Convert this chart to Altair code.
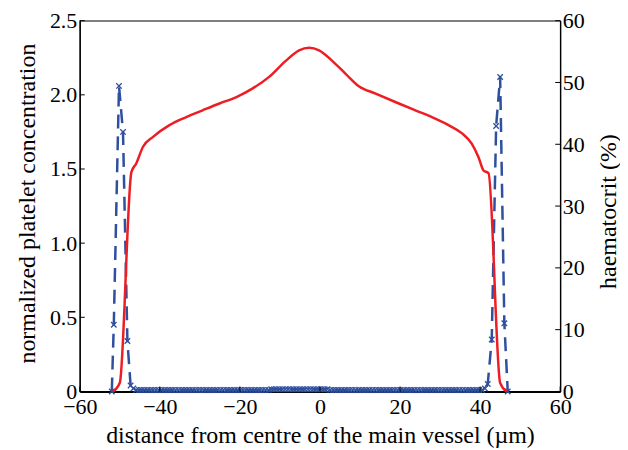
import altair as alt
import pandas as pd
import numpy as np

# ---- platelet concentration (left axis), blue dashed with x markers ----
plt_left_x = [-52.0, -51.5, -50.2, -49.2, -48.1, -47.3]
plt_left_y = [0.0, 0.45, 2.06, 1.75, 0.34, 0.04]
plt_mid_y = [
    0.02, 0.01, 0.01, 0.01, 0.01, 0.01, 0.01, 0.01, 0.01, 0.01, 0.01, 0.01, 0.01, 0.01,
    0.01, 0.01, 0.01, 0.01, 0.01, 0.01, 0.01, 0.01, 0.01, 0.01, 0.01, 0.01, 0.01, 0.01,
    0.01, 0.01, 0.01, 0.01, 0.01, 0.01, 0.01, 0.01, 0.01, 0.01, 0.01, 0.01, 0.01, 0.01,
    0.01, 0.01, 0.01, 0.01, 0.01, 0.01, 0.01, 0.015, 0.015, 0.015, 0.015, 0.015, 0.015, 0.015,
    0.015, 0.015, 0.015, 0.015, 0.015, 0.015, 0.015, 0.015, 0.015, 0.015, 0.015, 0.015, 0.015, 0.015,
    0.01, 0.01, 0.01, 0.01, 0.01, 0.01, 0.01, 0.01, 0.01, 0.01, 0.01, 0.01, 0.01, 0.01,
    0.01, 0.01, 0.01, 0.01, 0.01, 0.01, 0.01, 0.01, 0.01, 0.01, 0.01, 0.01, 0.01, 0.01,
    0.01, 0.01, 0.01, 0.01, 0.01, 0.01, 0.01, 0.01, 0.01, 0.01, 0.01, 0.01, 0.01, 0.01,
    0.01, 0.01, 0.01, 0.01, 0.01, 0.01, 0.01, 0.01, 0.01, 0.01, 0.01, 0.01, 0.01, 0.02,
]
plt_mid_x = list(np.round(np.linspace(-46.6, 41.2, len(plt_mid_y)), 3))
plt_right_x = [41.9, 42.9, 44.0, 45.0, 46.05, 46.9]
plt_right_y = [0.05, 0.35, 1.79, 2.12, 0.46, 0.0]

# ---- haematocrit (right axis, %), red solid ----
hct_x = [-51.7, -50.0, -47.1, -45.9, -44.2, -41.7, -37.6, -33.4, -29.3, -25.1,
         -21.0, -16.9, -12.7, -8.55, -5.2, -2.7, -0.25, 3.06, 6.4, 9.7,
         13.9, 19.7, 23.8, 27.95, 32.1, 35.4, 37.9, 39.6, 40.8, 42.1, 45.0, 46.6]
hct_y = [0.0, 1.4, 35.5, 36.9, 39.6, 41.2, 43.1, 44.4, 45.5, 46.6,
         47.6, 49.0, 50.9, 53.5, 55.2, 55.6, 55.2, 53.5, 51.4, 49.4,
         48.2, 46.6, 45.5, 44.4, 43.1, 41.8, 40.1, 37.9, 35.8, 35.3, 1.4, 0.0]

x_ticks = [-60, -40, -20, 0, 20, 40, 60]
left_ticks = [0, 0.5, 1.0, 1.5, 2.0, 2.5]
right_ticks = [0, 10, 20, 30, 40, 50, 60]

BLUE = "#2f4f9f"
RED = "#ee1d23"
FONT = "Liberation Serif"
W, H = 482, 372

plt_df = pd.DataFrame({
    "x": plt_left_x + plt_mid_x + plt_right_x,
    "y": plt_left_y + plt_mid_y + plt_right_y,
})
hct_df = pd.DataFrame({"x": hct_x, "y": hct_y})
xt_df = pd.DataFrame({"x": x_ticks})
lt_df = pd.DataFrame({"y": left_ticks})
rt_df = pd.DataFrame({"y": right_ticks})

x_scale = alt.Scale(domain=[-60, 60], nice=False)
yl_scale = alt.Scale(domain=[0, 2.5], nice=False)
yr_scale = alt.Scale(domain=[0, 60], nice=False)

common = dict(
    grid=False, tickSize=0, domainColor="black", labelColor="black",
    labelFont=FONT, labelFontSize=22, titleFont=FONT, titleFontSize=24,
    titleFontWeight="normal", titleColor="black", labelFlush=False,
    labelOverlap=False, labelBound=False,
)

x_axis = alt.Axis(values=x_ticks, labelPadding=5, domainWidth=2,
                  title="distance from centre of the main vessel (µm)",
                  titleX=W / 2, titleY=44, titleBaseline="middle", titleAlign="center",
                  **common)
yl_axis = alt.Axis(values=left_ticks, labelPadding=3, domainWidth=1.2,
                   labelExpr="datum.value == 0 ? '0' : format(datum.value, '.1f')",
                   labelBaseline="middle",
                   title="normalized platelet concentration",
                   titleX=-52, titleY=H / 2 - 3, titleAngle=270,
                   titleBaseline="middle", titleAlign="center", **common)
yr_axis = alt.Axis(values=right_ticks, orient="right", labelPadding=2, domainWidth=1.2,
                   labelBaseline="middle",
                   title="haematocrit (%)",
                   titleX=48, titleY=H / 2 + 5, titleAngle=270,
                   titleBaseline="middle", titleAlign="center", **common)

blue_line = alt.Chart(plt_df).mark_line(
    color=BLUE, strokeWidth=2.5, strokeDash=[14, 8]
).encode(
    x=alt.X("x:Q", scale=x_scale, axis=x_axis),
    y=alt.Y("y:Q", scale=yl_scale, axis=yl_axis),
)
blue_pts = alt.Chart(plt_df).mark_point(
    shape="M-1,-1L1,1M-1,1L1,-1", size=30, strokeWidth=1.3, color=BLUE,
    filled=False, opacity=1,
).encode(x=alt.X("x:Q", scale=x_scale), y=alt.Y("y:Q", scale=yl_scale))

x_tick_rules = alt.Chart(xt_df).mark_rule(color="black", strokeWidth=1).encode(
    x=alt.X("x:Q", scale=x_scale), y=alt.value(H), y2=alt.value(H - 5)
)
left_tick_rules = alt.Chart(lt_df).mark_rule(color="black", strokeWidth=1).encode(
    y=alt.Y("y:Q", scale=yl_scale), x=alt.value(0), x2=alt.value(5)
)

red_line = alt.Chart(hct_df).mark_line(
    color=RED, strokeWidth=2.5, interpolate="monotone"
).encode(
    x=alt.X("x:Q", scale=x_scale),
    y=alt.Y("y:Q", scale=yr_scale, axis=yr_axis),
)
right_tick_rules = alt.Chart(rt_df).mark_rule(color="black", strokeWidth=1).encode(
    y=alt.Y("y:Q", scale=yr_scale), x=alt.value(W), x2=alt.value(W - 5)
)

left_group = alt.layer(blue_line, blue_pts, left_tick_rules, x_tick_rules)
right_group = alt.layer(red_line, right_tick_rules)

chart = alt.layer(left_group, right_group).resolve_scale(y="independent").properties(
    width=W, height=H,
    autosize=alt.AutoSizeParams(type="none"),
    padding={"left": 72, "top": 12, "right": 60, "bottom": 56},
    background="white",
).configure_view(stroke="black", strokeWidth=1.2)

chart.save("out.html", embed_options={"renderer": "svg", "actions": False})
